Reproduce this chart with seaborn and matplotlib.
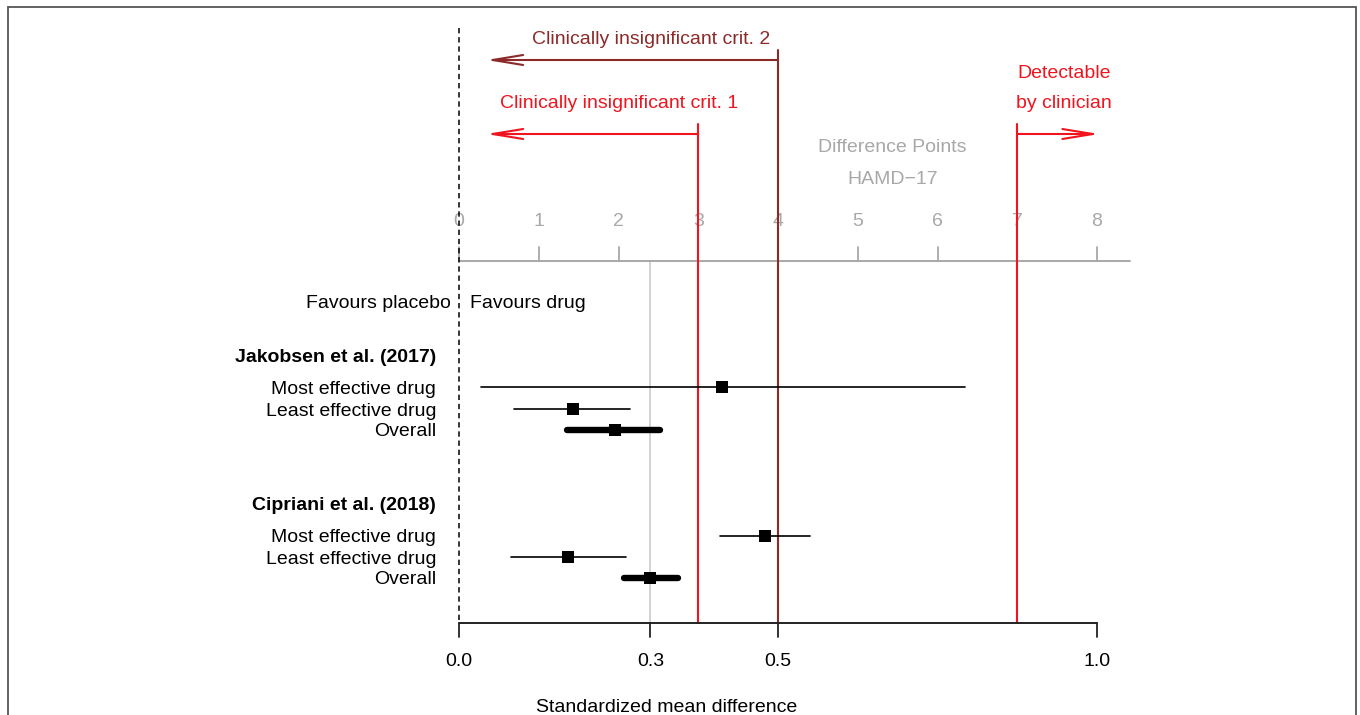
import matplotlib
matplotlib.use("Agg")
import matplotlib.pyplot as plt
import seaborn as sns
import pandas as pd
from matplotlib.patches import Rectangle

# ---------------- data ----------------
studies = ["Jakobsen et al. (2017)", "Cipriani et al. (2018)"]
row_labels = ["Most effective drug", "Least effective drug", "Overall",
              "Most effective drug", "Least effective drug", "Overall"]
row_study = [0, 0, 0, 1, 1, 1]
est = [0.412, 0.179, 0.245, 0.480, 0.171, 0.300]
lo = [0.034, 0.086, 0.169, 0.409, 0.082, 0.259]
hi = [0.793, 0.268, 0.315, 0.550, 0.262, 0.343]
is_overall = [False, False, True, False, False, True]

smd_ticks = [0.0, 0.3, 0.5, 1.0]
smd_ticklabels = ["0.0", "0.3", "0.5", "1.0"]
point_ticks = list(range(0, 9))
smd_per_point = 0.125          # 8 HAMD-17 points = 1 SMD
crit1_points = 3
crit2_points = 4
detect_points = 7
ref_smd = 0.3

RED = "#f0141e"
DARKRED = "#8c2a2a"
GREY = "#a8a8a8"
LIGHTGREY = "#cfcfcf"

sns.set_theme(style="white")
plt.rcParams["font.family"] = ["Liberation Sans", "DejaVu Sans"]

fig = plt.figure(figsize=(13.6, 7.15), dpi=100)
ax = fig.add_axes([0, 0, 1, 1])

FS = 14
DY = 2  # text vertical nudge

# layout (vertical positions)
row_y = [387, 409, 430, 536, 557, 578]
head_y = [355, 504]
y_bottom_axis = 623
y_top_axis = 261

# figure frame
fig.patches.append(Rectangle((8 / 1360, -0.01), (1356 - 8) / 1360, 1 - 7 / 715 + 0.01,
                             transform=fig.transFigure, fill=False,
                             edgecolor="#555555", linewidth=1.3, zorder=0))

# dashed zero line
ax.plot([0, 0], [28, y_bottom_axis], color="black", lw=1.1, ls=(0, (3.5, 2.5)), zorder=3)

# top (HAMD-17 points) axis
pt_smd = [p * smd_per_point for p in point_ticks]
ax.plot([0, 8.42 * smd_per_point], [y_top_axis, y_top_axis], color=GREY, lw=1.4, zorder=2)
for p, xs in zip(point_ticks, pt_smd):
    ax.plot([xs, xs], [y_top_axis, y_top_axis - 14], color=GREY, lw=1.3, zorder=2)
    ax.text(xs, 219 + DY, str(p), color=GREY, fontsize=FS, ha="center", va="center", zorder=2)
ax.text(0.679, 146 + DY, "Difference Points", color=GREY, fontsize=FS, ha="center", va="center")
ax.text(0.679, 177 + DY, "HAMD\u221217", color=GREY, fontsize=FS, ha="center", va="center")

# reference vertical lines
ax.plot([ref_smd, ref_smd], [y_top_axis, y_bottom_axis], color=LIGHTGREY, lw=1.3, zorder=1)
c1 = crit1_points * smd_per_point
c2 = crit2_points * smd_per_point
dt = detect_points * smd_per_point
ax.plot([c1, c1], [124, y_bottom_axis], color=RED, lw=1.5, zorder=4)
ax.plot([c2, c2], [50, y_bottom_axis], color=DARKRED, lw=1.5, zorder=4)
ax.plot([dt, dt], [124, y_bottom_axis], color=RED, lw=1.5, zorder=4)

# arrows
arrow_tip_left = 0.34 * smd_per_point
arr = dict(arrowstyle="->,head_length=2.2,head_width=0.36", lw=1.5,
           shrinkA=0, shrinkB=0, mutation_scale=10)
ax.annotate("", xy=(arrow_tip_left, 60), xytext=(c2, 60),
            arrowprops=dict(arr, color=DARKRED))
ax.annotate("", xy=(arrow_tip_left, 134), xytext=(c1, 134),
            arrowprops=dict(arr, color=RED))
ax.annotate("", xy=(8.03 * smd_per_point, 134), xytext=(dt, 134),
            arrowprops=dict(arr, color=RED))
ax.text((651 - 459) / 638, 38 + DY, "Clinically insignificant crit. 2", color=DARKRED,
        fontsize=FS, ha="center", va="center")
ax.text((619 - 459) / 638, 101 + DY, "Clinically insignificant crit. 1", color=RED,
        fontsize=FS, ha="center", va="center")
ax.text((1064 - 459) / 638, 72 + DY, "Detectable", color=RED, fontsize=FS, ha="center", va="center")
ax.text((1064 - 459) / 638, 101 + DY, "by clinician", color=RED, fontsize=FS, ha="center", va="center")

# favours labels
ax.text(-0.0125, 302 + DY, "Favours placebo", fontsize=FS, ha="right", va="center", color="black")
ax.text(0.017, 302 + DY, "Favours drug", fontsize=FS, ha="left", va="center", color="black")

# study headers
lab_x = (436 - 459) / 638
for s, hy in zip(studies, head_y):
    ax.text(lab_x, hy + DY, s, fontsize=FS, fontweight="bold", ha="right", va="center", color="black")

# rows
df = pd.DataFrame({"label": row_labels, "study": row_study, "est": est, "lo": lo,
                   "hi": hi, "overall": is_overall, "y": row_y})
for _, r in df.iterrows():
    ax.text(lab_x, r["y"] + DY, r["label"], fontsize=FS, ha="right", va="center", color="black")
    ax.plot([r["lo"], r["hi"]], [r["y"], r["y"]], color="black",
            lw=4.6 if r["overall"] else 1.2, solid_capstyle="round", zorder=5)
sns.scatterplot(data=df, x="est", y="y", marker="s", s=78, color="black",
                edgecolor="black", linewidth=0, ax=ax, zorder=6, legend=False)

# bottom SMD axis
ax.plot([0, 1.0], [y_bottom_axis, y_bottom_axis], color="#222222", lw=1.4, zorder=5)
for t, tl in zip(smd_ticks, smd_ticklabels):
    ax.plot([t, t], [y_bottom_axis, y_bottom_axis + 14], color="#222222", lw=1.3, zorder=5)
    ax.text(t, 659 + DY, tl, fontsize=FS, ha="center", va="center", color="black")
ax.text((667 - 459) / 638, 706 + DY, "Standardized mean difference", fontsize=FS,
        ha="center", va="center", color="black")

# x in SMD units, y in layout units (pixels from top)
ax.set_xlim(-459 / 638, (1360 - 459) / 638)
ax.set_ylim(715, 0)
ax.axis("off")

fig.savefig("out.png", dpi=100)
